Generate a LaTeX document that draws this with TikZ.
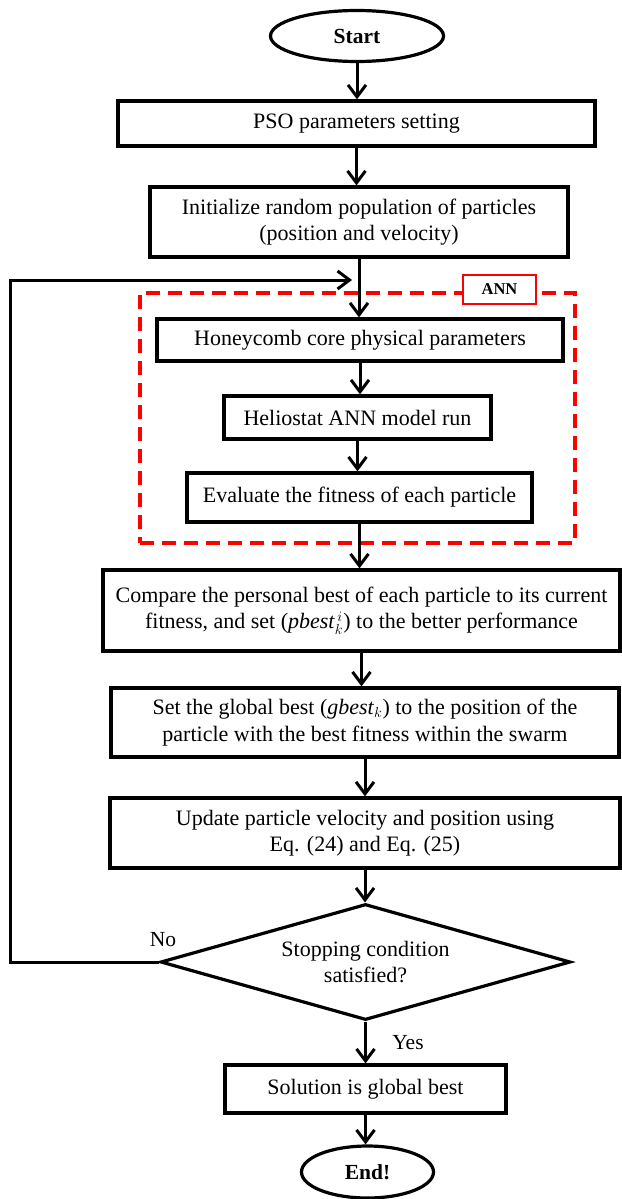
\documentclass[tikz,border=0pt]{standalone}
\usepackage{fontspec}
\setmainfont{Liberation Serif}
\usetikzlibrary{shapes.geometric,arrows.meta}
\begin{document}
\begin{tikzpicture}[x=1pt,y=-1pt,
  box/.style={draw, line width=3.2pt, rectangle, inner sep=0pt, align=center,
    font=\fontsize{22}{26.5}\selectfont},
  term/.style={draw, line width=3.2pt, ellipse, inner sep=0pt,
    font=\fontsize{21.5}{25}\selectfont\bfseries},
  decision/.style={draw, line width=3.2pt, diamond, aspect=3.53, inner sep=0pt, align=center,
    font=\fontsize{22}{26}\selectfont},
  arr/.style={line width=3pt, line join=miter,
    -{Straight Barb[length=12pt,width=18pt,line width=3pt]}},
  lbl/.style={inner sep=0pt, font=\fontsize{21.5}{25}\selectfont},
  annframe/.style={draw=red, line width=4pt, dash pattern=on 14pt off 8pt, inner sep=0pt},
  annlabel/.style={draw=red, fill=white, line width=2.8pt, inner sep=0pt,
    font=\fontsize{16.5}{18}\selectfont\bfseries}
]
\useasboundingbox (0,0) rectangle (621,1199);

\node[annframe, minimum width=435pt, minimum height=250pt] (frame) at (357.5,418) {};
\node[annlabel, minimum width=73pt, minimum height=29pt] (ann) at (499.5,289.5) {ANN};

\node[term, minimum width=173pt, minimum height=51pt] (start) at (357,36) {Start};
\node[box, minimum width=477pt, minimum height=45pt] (pso) at (356.5,123.5) {PSO parameters setting};
\node[box, minimum width=418pt, minimum height=70pt] (init) at (359,222) {Initialize random population of particles\\(position and velocity)};
\node[box, minimum width=406pt, minimum height=42pt] (honey) at (360,340) {Honeycomb core physical parameters};
\node[box, minimum width=267pt, minimum height=43pt] (helio) at (357.5,417.5) {Heliostat ANN model run};
\node[box, minimum width=345pt, minimum height=49pt] (eval) at (359.5,497.5) {Evaluate the fitness of each particle};
\node[box, minimum width=517pt, minimum height=81pt] (comp) at (361.5,610.5) {Compare the personal best of each particle to its current\\fitness, and set (\textit{pbest}$^{\,i}_{k}$) to the better performance};
\node[box, minimum width=508pt, minimum height=69pt] (setg) at (365,722.5) {Set the global best (\textit{gbest}$_{k}$) to the position of the\\particle with the best fitness within the swarm};
\node[box, minimum width=510pt, minimum height=70pt] (upd) at (365,833) {Update particle velocity and position using\\Eq. (24) and Eq. (25)};
\node[decision, minimum width=410pt, minimum height=116pt] (dec) at (365.5,962) {Stopping condition\\satisfied?};
\node[box, minimum width=281pt, minimum height=48pt] (sol) at (365.5,1089) {Solution is global best};
\node[term, minimum width=132pt, minimum height=52pt] (end) at (367.5,1172) {End!};

\node[lbl] (no) at (163,940) {No};
\node[lbl] (yes) at (408,1043) {Yes};

\coordinate (fbl) at (10,962);
\coordinate (fbt) at (10,280);
\coordinate (fbe) at (352,280);

\draw[arr] (start.south) -- (start.south |- pso.north);
\draw[arr] (pso.south) -- (pso.south |- init.north);
\draw[arr] (init.south) -- (init.south |- honey.north);
\draw[arr] (honey.south) -- (honey.south |- helio.north);
\draw[arr] (helio.south) -- (helio.south |- eval.north);
\draw[arr] (eval.south) -- (eval.south |- comp.north);
\draw[arr] (comp.south) -- (comp.south |- setg.north);
\draw[arr] (setg.south) -- (setg.south |- upd.north);
\draw[arr] (upd.south) -- (upd.south |- dec.north);
\draw[arr] (dec.south) -- (dec.south |- sol.north);
\draw[arr] (sol.south) -- (sol.south |- end.north);
\draw[arr] (dec.west) -- (fbl) -- (fbt) -- (fbe);
\end{tikzpicture}
\end{document}
